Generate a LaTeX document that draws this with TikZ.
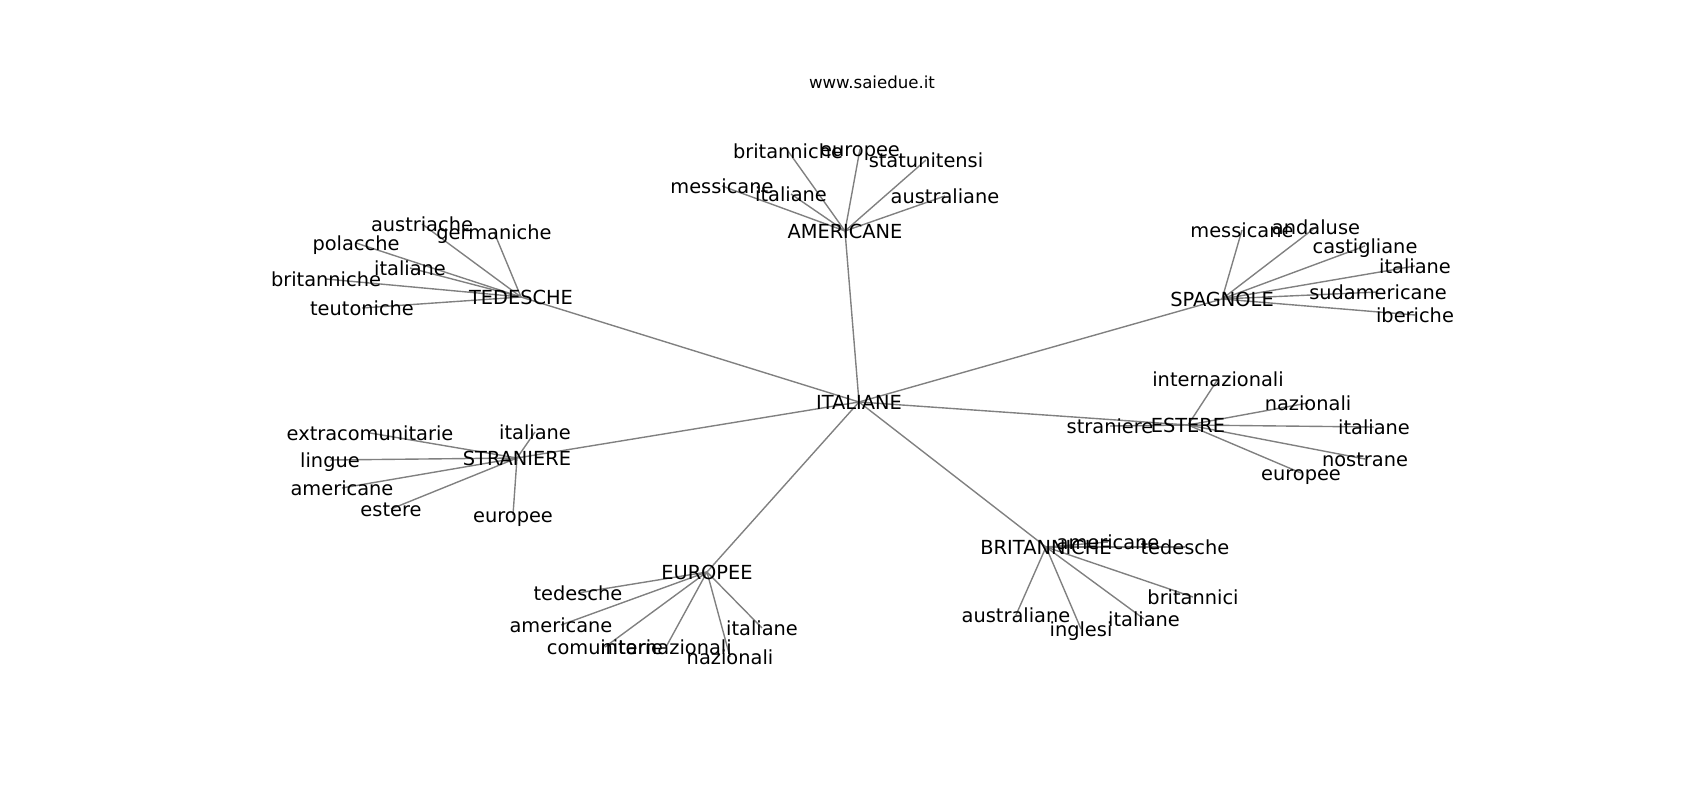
\documentclass[tikz,border=0pt]{standalone}
\usepackage{fontspec}
\setmainfont{DejaVu Sans}
\usetikzlibrary{positioning}
\definecolor{edgegray}{gray}{0.5}
\pgfdeclarelayer{bg}
\pgfsetlayers{bg,main}

\begin{document}
\begin{tikzpicture}[x=0.01in,y=-0.01in,
    every node/.style={font=\fontsize{14}{17}\selectfont,inner sep=0pt,
      text height=1.03em,text depth=0pt},
    every edge/.append style={edgegray,line width=1bp}]
  \useasboundingbox (0,0) rectangle (1700,800);
  \node[font=\fontsize{12}{14}\selectfont,text height=0.73em] (title)
  at (872,83) {www.saiedue.it};
  % centre and its seven neighbours
  \node (n1) at (859,402) {ITALIANE}; \node (n11) at (845,231)
  {AMERICANE}; \node (n12) at (521,297) {TEDESCHE}; \node (n13) at
  (1222,299) {SPAGNOLE}; \node (n14) at (1188,425) {ESTERE}; \node
  (n15) at (517,458) {STRANIERE}; \node (n16) at (707,572)
  {EUROPEE}; \node (n17) at (1046,547) {BRITANNICHE};
  % AMERICANE
  \node (n111) at (788,151) {britanniche}; \node (n112) at (860,149)
  {europee}; \node (n113) at (926,160) {statunitensi}; \node (n114)
  at (722,186) {messicane}; \node (n115) at (791,194) {italiane};
  \node (n116) at (945,196) {australiane};
  % TEDESCHE
  \node (n121) at (422,224) {austriache}; \node (n122) at (494,232)
  {germaniche}; \node (n123) at (356,243) {polacche}; \node (n124)
  at (410,268) {italiane}; \node (n125) at (326,279) {britanniche};
  \node (n126) at (362,308) {teutoniche};
  % SPAGNOLE
  \node (n131) at (1242,230) {messicane}; \node (n132) at (1316,227)
  {andaluse}; \node (n133) at (1365,246) {castigliane}; \node (n134)
  at (1415,266) {italiane}; \node (n135) at (1378,292)
  {sudamericane}; \node (n136) at (1415,315) {iberiche};
  % ESTERE
  \node (n141) at (1110,426) {straniere}; \node (n142) at (1218,379)
  {internazionali}; \node (n143) at (1308,403) {nazionali}; \node
  (n144) at (1374,427) {italiane}; \node (n145) at (1365,459)
  {nostrane}; \node (n146) at (1301,473) {europee};
  % STRANIERE
  \node (n151) at (535,432) {italiane}; \node (n152) at (370,433)
  {extracomunitarie}; \node (n153) at (330,460) {lingue}; \node
  (n154) at (342,488) {americane}; \node (n155) at (391,509)
  {estere}; \node (n156) at (513,515) {europee};
  % EUROPEE
  \node (n161) at (578,593) {tedesche}; \node (n162) at (561,625)
  {americane}; \node (n163) at (605,647) {comunitarie}; \node (n164)
  at (666,647) {internazionali}; \node (n165) at (730,657)
  {nazionali}; \node (n166) at (762,628) {italiane};
  % BRITANNICHE
  \node (n171) at (1108,542) {americane}; \node (n172) at (1185,547)
  {tedesche}; \node (n173) at (1193,597) {britannici}; \node (n174)
  at (1144,619) {italiane}; \node (n175) at (1081,629) {inglesi};
  \node (n176) at (1016,615) {australiane};

  \begin{pgfonlayer}{bg}
    \foreach \h in {11,12,13,14,15,16,17}{
      \path (n1.center) edge (n\h.center);
      \foreach \l in {1,...,6}
        \path (n\h.center) edge (n\h\l.center);
    }
  \end{pgfonlayer}
\end{tikzpicture}
\end{document}
